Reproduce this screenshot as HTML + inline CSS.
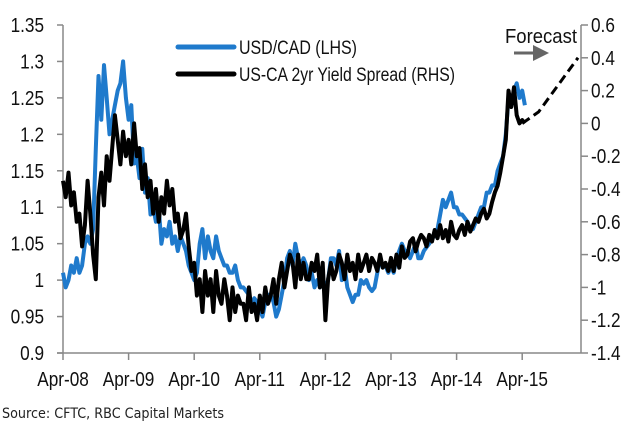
<!DOCTYPE html>
<html><head><meta charset="utf-8"><style>
body{margin:0;background:#fff;width:637px;height:427px;overflow:hidden;position:relative}
svg{display:block;font-family:"Liberation Sans",sans-serif}
</style></head><body>
<svg id="c" width="637" height="427"></svg>
<script>
const startYear = 2008.25;
const stepYears = 1/24;
const usdcad = [1.01,0.99,1.00,1.02,1.01,1.03,1.01,1.02,1.05,1.06,1.05,1.07,1.18,1.28,1.22,1.295,1.25,1.20,
1.22,1.24,1.26,1.27,1.30,1.25,1.22,1.24,1.16,1.17,1.14,1.18,1.12,1.14,1.09,1.10,1.08,1.10,1.05,1.07,1.06,1.08,1.05,1.06,
1.04,1.06,1.05,1.04,1.02,1.01,1.00,1.01,1.05,1.07,1.03,1.06,1.04,1.03,1.06,1.04,1.03,1.02,1.02,1.01,1.01,1.02,1.00,0.99,
0.99,0.985,0.98,0.97,0.975,0.97,0.96,0.95,0.97,0.98,0.98,0.97,0.95,0.96,0.98,1.00,1.03,1.04,1.02,1.05,1.03,1.02,1.03,1.02,
1.00,1.01,0.99,1.00,0.99,1.00,0.99,1.00,1.03,1.03,1.02,1.04,1.00,1.02,0.99,0.98,0.97,0.98,0.98,1.00,0.995,1.00,0.99,0.985,
0.99,1.01,1.03,1.02,1.02,1.01,1.02,1.01,1.03,1.04,1.05,1.04,1.04,1.03,1.04,1.05,1.03,1.03,1.04,1.045,1.05,1.06,1.06,1.07,
1.09,1.11,1.10,1.11,1.12,1.10,1.10,1.09,1.09,1.085,1.08,1.07,1.07,1.08,1.09,1.10,1.10,1.12,1.12,1.13,1.13,1.15,1.16,1.17,
1.20,1.25,1.24,1.26,1.27,1.25,1.26,1.24];
const spread = [-0.35,-0.45,-0.30,-0.50,-0.42,-0.60,-0.55,-0.75,-0.62,-0.35,-0.55,-0.80,-0.95,-0.45,-0.30,-0.50,-0.20,-0.35,
-0.15,0.05,-0.10,-0.25,-0.05,-0.20,-0.10,-0.25,0.00,-0.20,-0.15,-0.40,-0.25,-0.45,-0.35,-0.55,-0.40,-0.60,-0.45,-0.55,-0.35,-0.50,-0.40,-0.60,
-0.55,-0.70,-0.65,-0.55,-0.75,-0.90,-0.85,-1.05,-0.95,-1.15,-0.90,-1.05,-0.95,-1.15,-0.90,-1.05,-1.10,-0.95,-1.05,-1.20,-1.00,-1.15,-1.05,-1.10,
-1.10,-1.20,-1.00,-1.15,-1.10,-1.20,-1.05,-1.15,-1.00,-1.10,-1.05,-0.95,-1.10,-0.95,-0.85,-1.00,-0.90,-0.80,-0.85,-1.00,-0.80,-0.95,-0.85,-0.95,
-0.95,-0.85,-0.90,-0.80,-1.00,-0.85,-1.20,-0.95,-0.85,-0.95,-0.90,-0.80,-0.85,-0.95,-0.80,-0.90,-0.85,-0.95,-0.80,-0.90,-0.85,-0.80,-0.90,-0.82,
-0.85,-0.90,-0.80,-0.88,-0.85,-0.90,-0.82,-0.90,-0.80,-0.88,-0.75,-0.82,-0.80,-0.72,-0.70,-0.78,-0.72,-0.68,-0.70,-0.75,-0.68,-0.72,-0.65,-0.70,
-0.62,-0.70,-0.65,-0.72,-0.60,-0.68,-0.70,-0.65,-0.62,-0.68,-0.60,-0.66,-0.62,-0.58,-0.60,-0.55,-0.52,-0.58,-0.55,-0.48,-0.42,-0.38,-0.30,-0.20,
-0.10,0.20,0.10,0.22,0.05,0.0,0.02,0.0];
const forecastDates = [2015.25,2015.5,2016.1];
const forecastValues = [0.0,0.07,0.4];
const xTickLabels = ["Apr-08","Apr-09","Apr-10","Apr-11","Apr-12","Apr-13","Apr-14","Apr-15"];
const leftTicks = [1.35,1.3,1.25,1.2,1.15,1.1,1.05,1,0.95,0.9];
const rightTicks = [0.6,0.4,0.2,0,-0.2,-0.4,-0.6,-0.8,-1,-1.2,-1.4];

const L=63,R=581,T=25,B=353,yrPx=65.6,SX=0.86;
const x=t=>L+(t-startYear)*yrPx;
const yl=v=>T+(1.35-v)/0.45*(B-T);
const yr=v=>T+(0.6-v)/2.0*(B-T);
const NS="http://www.w3.org/2000/svg";
const svg=document.getElementById('c');
function mk(tag,attrs,parent){const e=document.createElementNS(NS,tag);for(const k in attrs)e.setAttribute(k,attrs[k]);(parent||svg).appendChild(e);return e;}
function txt(s,xx,yy,anchor){const t=mk('text',{x:(xx/SX).toFixed(1),y:yy,'text-anchor':anchor,'font-size':20,fill:'#111',transform:'scale('+SX+',1)'});t.textContent=s;return t;}

let e=mk('line',{x1:L,y1:T,x2:L,y2:B,stroke:'#888','stroke-width':1.5});


e=mk('line',{x1:R,y1:T,x2:R,y2:B,stroke:'#888','stroke-width':1.5});


e=mk('line',{x1:L-6,y1:B,x2:R,y2:B,stroke:'#888','stroke-width':1.5});



leftTicks.forEach(v=>{
  mk('line',{x1:L-6,y1:yl(v),x2:L,y2:yl(v),stroke:'#888','stroke-width':1.5});
  const t=txt(String(v),L-19,yl(v)+7,'end');
  
  
});
rightTicks.forEach(v=>{
  mk('line',{x1:R,y1:yr(v),x2:R+7,y2:yr(v),stroke:'#888','stroke-width':1.5});
  const t=txt(v<0?'-'+String(-v):String(v),R+10,yr(v)+7,'start');
  
  
});
xTickLabels.forEach((s,i)=>{
  const xx=x(startYear+i);
  mk('line',{x1:xx,y1:B,x2:xx,y2:B+7,stroke:'#888','stroke-width':1.5});
  const t=txt(s,xx,B+33,'middle');
  
  
});

const bp=usdcad.map((v,i)=>x(startYear+i*stepYears).toFixed(1)+','+yl(v).toFixed(1)).join(' ');
e=mk('polyline',{points:bp,fill:'none',stroke:'#1f7acc','stroke-width':4,'stroke-linejoin':'round'});


const kp=spread.map((v,i)=>x(startYear+i*stepYears).toFixed(1)+','+yr(v).toFixed(1)).join(' ');
e=mk('polyline',{points:kp,fill:'none',stroke:'#000','stroke-width':4,'stroke-linejoin':'round'});


const fp=forecastDates.map((d,i)=>x(d).toFixed(1)+','+yr(forecastValues[i]).toFixed(1)).join(' ');
e=mk('polyline',{points:fp,fill:'none',stroke:'#000','stroke-width':3,'stroke-dasharray':'9,5'});


</script>
<svg style="position:absolute;left:0;top:0" width="637" height="427">
<g>
<line x1="178" y1="47" x2="234" y2="47" stroke="#1f7acc" stroke-width="5" stroke-linecap="round"/>
<text x="239" y="54" font-size="19" font-family="Liberation Sans,sans-serif" fill="#111" textLength="118" lengthAdjust="spacingAndGlyphs">USD/CAD (LHS)</text>
<line x1="178" y1="74" x2="234" y2="74" stroke="#000" stroke-width="5" stroke-linecap="round"/>
<text x="239" y="81" font-size="19" font-family="Liberation Sans,sans-serif" fill="#111" textLength="216" lengthAdjust="spacingAndGlyphs">US-CA 2yr Yield Spread (RHS)</text>
</g>
<text x="505" y="43" font-size="20" font-family="Liberation Sans,sans-serif" fill="#111" textLength="72" lengthAdjust="spacingAndGlyphs">Forecast</text>
<g>
<line x1="514" y1="53" x2="535" y2="53" stroke="#666" stroke-width="3"/>
<polygon points="533,45 549,53 533,61" fill="#666"/>
</g>
<text x="2" y="418" font-size="14" font-family="DejaVu Sans,sans-serif" fill="#222" textLength="222" lengthAdjust="spacingAndGlyphs">Source: CFTC, RBC Capital Markets</text>
</svg>
</body></html>
